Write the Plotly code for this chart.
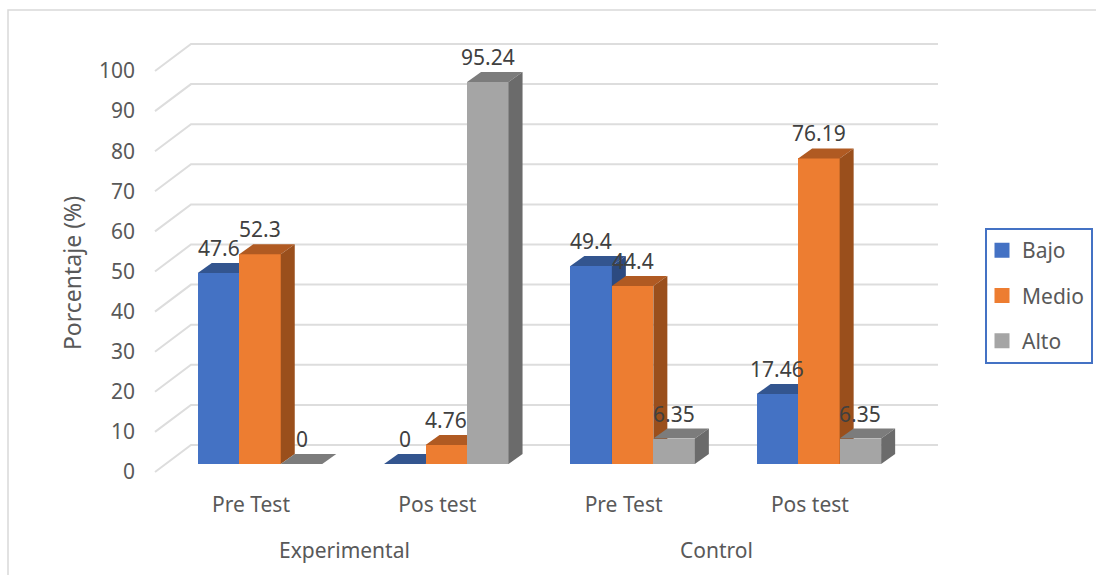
import plotly.graph_objects as go

# ---- data ----
categories = ["Pre Test", "Pos test", "Pre Test", "Pos test"]
groups = ["Experimental", "Control"]
series_names = ["Bajo", "Medio", "Alto"]
bajo = [47.6, 0, 49.4, 17.46]
medio = [52.3, 4.76, 44.4, 76.19]
alto = [0, 95.24, 6.35, 6.35]
y_ticks = [0, 10, 20, 30, 40, 50, 60, 70, 80, 90, 100]
y_title = "Porcentaje (%)"

# ---- styles ----
FRONT = ["#4472C4", "#ED7D31", "#A5A5A5"]
TOP = ["#33558F", "#B05A22", "#7C7C7C"]
SIDE = ["#2C4A80", "#9A4F1C", "#6B6B6B"]
GRID = "#DDDDDD"
TXT = "#595959"
LBL = "#404040"
FONT = "Noto Sans"
FS = 21

W, H = 1096, 575
L, R, T, B = 150, 945, 20, 526
AXIS_LINE_PX = 490  # where the category labels hang from
PX_PER_CAT = 186.3
PX_PER_UNIT = 4.01
X0_PX = 251      # pixel of the first category label
Y0_PX = 472      # pixel of value 0 on the front plane
BAR_Y0_PX = 464  # pixel of value 0 on the plane of the bar fronts

x_range = [(L - X0_PX) / PX_PER_CAT, (R - X0_PX) / PX_PER_CAT]
y_range = [(Y0_PX - B) / PX_PER_UNIT, (Y0_PX - T) / PX_PER_UNIT]
bar_y_range = [(BAR_Y0_PX - B) / PX_PER_UNIT, (BAR_Y0_PX - T) / PX_PER_UNIT]

group_shift = 9 / PX_PER_CAT
bar_w = 41.5 / PX_PER_CAT
depth_x = 14 / PX_PER_CAT
depth_y = 10 / PX_PER_UNIT
wall_x = 36 / PX_PER_CAT
wall_y = 27 / PX_PER_UNIT
left_wall_x = (155 - X0_PX) / PX_PER_CAT
right_wall_x = (938 - X0_PX) / PX_PER_CAT


def paper_x(px):
    return (px - L) / (R - L)


def paper_y(px):
    return (B - px) / (B - T)


fig = go.Figure()

# gridlines drawn on the walls of the 3D box
for t in y_ticks:
    fig.add_trace(go.Scatter(
        x=[left_wall_x, left_wall_x + wall_x, right_wall_x],
        y=[t, t + wall_y, t + wall_y],
        mode="lines", line=dict(color=GRID, width=2),
        showlegend=False, hoverinfo="skip", xaxis="x", yaxis="y"))

# one overlaid y axis per series so the series paint left to right
annotations = []
for s, (name, vals) in enumerate(zip(series_names, [bajo, medio, alto])):
    ya = f"y{s + 2}"
    xs = [i + group_shift + (s - 1) * bar_w for i in range(len(vals))]
    fig.add_trace(go.Bar(
        x=xs, y=vals, width=[bar_w] * len(vals), name=name,
        marker=dict(color=FRONT[s], line=dict(width=0)),
        showlegend=False, xaxis="x", yaxis=ya))
    for xc, v in zip(xs, vals):
        xl, xr = xc - bar_w / 2, xc + bar_w / 2
        fig.add_trace(go.Scatter(
            x=[xl, xr, xr + depth_x, xl + depth_x, xl],
            y=[v, v, v + depth_y, v + depth_y, v],
            mode="lines", fill="toself", fillcolor=TOP[s], line=dict(width=0),
            showlegend=False, hoverinfo="skip", xaxis="x", yaxis=ya))
        fig.add_trace(go.Scatter(
            x=[xr, xr + depth_x, xr + depth_x, xr, xr],
            y=[0, depth_y, v + depth_y, v, 0],
            mode="lines", fill="toself", fillcolor=SIDE[s], line=dict(width=0),
            showlegend=False, hoverinfo="skip", xaxis="x", yaxis=ya))
        annotations.append(dict(
            x=xc, y=v, xref="x", yref=ya, text=str(v), showarrow=False,
            yshift=25, xanchor="center", yanchor="middle",
            font=dict(family=FONT, size=FS, color=LBL)))

# legend entries: empty bars whose outline enlarges the legend swatch
for s, name in enumerate(series_names):
    fig.add_trace(go.Bar(
        x=[None], y=[None], name=name, legendgroup=name,
        marker=dict(color=FRONT[s], line=dict(width=3, color=FRONT[s])),
        xaxis="x", yaxis=f"y{s + 2}"))

for i, g in enumerate(groups):
    annotations.append(dict(
        x=0.5 + 2 * i, y=paper_y(550), xref="x", yref="paper", text=g,
        showarrow=False, xanchor="center", yanchor="middle",
        font=dict(family=FONT, size=FS, color=TXT)))

shapes = [
    dict(type="rect", xref="paper", yref="paper",
         x0=paper_x(8), x1=paper_x(1110), y0=paper_y(600), y1=paper_y(10),
         line=dict(color="#D9D9D9", width=1.5), fillcolor="rgba(0,0,0,0)", layer="below"),
    dict(type="rect", xref="paper", yref="paper",
         x0=paper_x(986), x1=paper_x(1092), y0=paper_y(363), y1=paper_y(229),
         line=dict(color="#4472C4", width=2), fillcolor="white", layer="below"),
]

axis_common = dict(overlaying="y", range=bar_y_range, visible=False)

fig.update_layout(
    width=W, height=H, autosize=False,
    margin=dict(l=L, r=W - R, t=T, b=H - B, pad=0, autoexpand=False),
    paper_bgcolor="white", plot_bgcolor="rgba(0,0,0,0)",
    barmode="overlay", bargap=0,
    font=dict(family=FONT, size=FS, color=TXT),
    xaxis=dict(range=x_range, tickmode="array", tickvals=list(range(len(categories))),
               ticktext=categories, showgrid=False, zeroline=False, showline=False,
               anchor="free", position=(B - AXIS_LINE_PX) / (B - T),
               ticks="", ticklabelstandoff=0, tickfont=dict(family=FONT, size=FS, color=TXT)),
    yaxis=dict(range=y_range, tickmode="array", tickvals=y_ticks, showgrid=False,
               zeroline=False, showline=False, ticks="", ticklabelstandoff=14,
               title=dict(text=y_title, standoff=10, font=dict(family=FONT, size=23, color=TXT)),
               tickfont=dict(family=FONT, size=FS, color=TXT)),
    yaxis2=axis_common, yaxis3=axis_common, yaxis4=axis_common,
    legend=dict(x=paper_x(982), y=paper_y(230), xanchor="left", yanchor="top",
                bgcolor="rgba(0,0,0,0)", borderwidth=0,
                traceorder="grouped", tracegroupgap=15,
                font=dict(family=FONT, size=FS, color=TXT)),
    annotations=annotations, shapes=shapes,
    showlegend=True,
)

fig.write_html("out.html", config=dict(displayModeBar=False),
               post_script="document.body.style.margin='0';document.body.style.overflow='hidden';")
